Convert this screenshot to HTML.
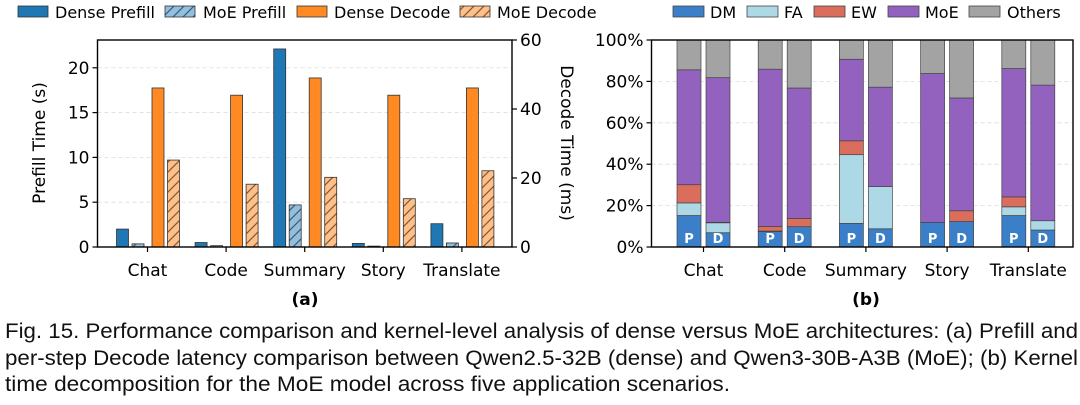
<!DOCTYPE html>
<html><head><meta charset="utf-8"><style>
html,body{margin:0;padding:0;background:#fff;}
svg{display:block;font-family:"DejaVu Sans","Liberation Sans",sans-serif;}
</style></head><body>
<svg id="fig" width="1080" height="405" viewBox="0 0 1080 405" xmlns="http://www.w3.org/2000/svg">
<defs>
<pattern id="hatchB" patternUnits="userSpaceOnUse" width="10" height="10">
<rect width="10" height="10" fill="#93bfdf"/><path d="M-2,12 L12,-2 M-2,2 L2,-2 M8,12 L12,8" stroke="#3d5a73" stroke-width="1.2"/></pattern>
<pattern id="hatchO" patternUnits="userSpaceOnUse" width="10" height="10">
<rect width="10" height="10" fill="#ffbf86"/><path d="M-2,12 L12,-2 M-2,2 L2,-2 M8,12 L12,8" stroke="#7a5a40" stroke-width="1.2"/></pattern>
</defs>
<g id="chartA"></g>
<g id="chartB"></g>
<g font-family="'Liberation Sans Narrow','Liberation Sans',sans-serif" font-size="21" fill="#111">
<text x="5" y="338" textLength="1073" lengthAdjust="spacingAndGlyphs">Fig. 15.  Performance comparison and kernel-level analysis of dense versus MoE architectures: (a) Prefill and</text>
<text x="5" y="365" textLength="1073" lengthAdjust="spacingAndGlyphs">per-step Decode latency comparison between Qwen2.5-32B (dense) and Qwen3-30B-A3B (MoE); (b) Kernel</text>
<text x="5" y="391" textLength="725" lengthAdjust="spacingAndGlyphs">time decomposition for the MoE model across five application scenarios.</text>
</g>
</svg>
<script>
const categories = ["Chat","Code","Summary","Story","Translate"];
const densePrefill = [2.0, 0.5, 22.1, 0.4, 2.6];
const moePrefill = [0.35, 0.15, 4.7, 0.1, 0.45];
const denseDecode = [46.1, 44.0, 49.0, 44.0, 46.1];
const moeDecode = [25.2, 18.2, 20.2, 14.0, 22.1];
const leftTicks = [0,5,10,15,20];
const rightTicks = [0,20,40,60];
const kernels = ["DM","FA","EW","MoE","Others"];
const prefillShare = [
 [15.2,6.1,8.8,55.5,14.4],
 [7.5,0.2,2.2,76.0,14.1],
 [11.4,33.2,6.7,39.4,9.3],
 [11.9,0,0,71.9,16.2],
 [15.2,4.2,4.8,62.0,13.8]];
const decodeShare = [
 [6.9,4.8,0.2,69.9,18.2],
 [9.8,0,4.0,63.0,23.2],
 [8.8,20.4,0,48.0,22.8],
 [12.3,0,5.2,54.5,28.0],
 [8.2,4.5,0,65.5,21.8]];
const pctTicks = [0,20,40,60,80,100];

const NS="http://www.w3.org/2000/svg";
function mk(parent,tag,attrs,txt){const e=document.createElementNS(NS,tag);for(const k in attrs)e.setAttribute(k,attrs[k]);if(txt!==undefined)e.textContent=txt;parent.appendChild(e);return e;}

// ---- Chart A
const A=document.getElementById('chartA');
const aL=97.5,aR=512,aT=40,aB=247;
const yL=v=>aB-(v/23.1)*(aB-aT);
const yR=v=>aB-(v/60)*(aB-aT);
const xCat=i=>147.5+i*78.6;
leftTicks.forEach(t=>{
 if(t>0){const g=mk(A,'line',{x1:aL,x2:aR,y1:yL(t),y2:yL(t),stroke:'#ddd','stroke-dasharray':'4,3','stroke-width':0.8});
 
 }
 mk(A,'line',{x1:aL-5,x2:aL,y1:yL(t),y2:yL(t),stroke:'#000','stroke-width':1.2});
 const l=mk(A,'text',{x:aL-8,y:yL(t)+6,'text-anchor':'end','font-size':17},String(t));
 
 
});
rightTicks.forEach(t=>{
 mk(A,'line',{x1:aR,x2:aR+5,y1:yR(t),y2:yR(t),stroke:'#000','stroke-width':1.2});
 const l=mk(A,'text',{x:aR+8,y:yR(t)+6,'font-size':17},String(t));
 
 
});
const series=[
 {d:densePrefill,off:-25,fill:'#1f77b4',sc:yL,name:'dense-prefill-bar'},
 {d:moePrefill,off:-9.5,fill:'url(#hatchB)',sc:yL,name:'moe-prefill-bar'},
 {d:denseDecode,off:10.5,fill:'#ff8a24',sc:yR,name:'dense-decode-bar'},
 {d:moeDecode,off:26,fill:'url(#hatchO)',sc:yR,name:'moe-decode-bar'}];
series.forEach(s=>{s.d.forEach((v,i)=>{
 const y=s.sc(v);
 const r=mk(A,'rect',{x:xCat(i)+s.off-6,y:y,width:12,height:aB-y,fill:s.fill,stroke:'#333','stroke-width':0.8});
 
 
});});
mk(A,'rect',{x:aL,y:aT,width:aR-aL,height:aB-aT,fill:'none',stroke:'#000','stroke-width':1.4});
categories.forEach((c,i)=>{
 mk(A,'line',{x1:xCat(i),x2:xCat(i),y1:aB,y2:aB+5,stroke:'#000','stroke-width':1.2});
 const l=mk(A,'text',{x:xCat(i),y:276,'text-anchor':'middle','font-size':17},c);
 
 
});
let t=mk(A,'text',{x:0,y:0,transform:'translate(45,143) rotate(-90)','text-anchor':'middle','font-size':17},'Prefill Time (s)');

t=mk(A,'text',{x:0,y:0,transform:'translate(561,143) rotate(90)','text-anchor':'middle','font-size':17},'Decode Time (ms)');

t=mk(A,'text',{x:305,y:305,'text-anchor':'middle','font-size':17,'font-weight':'bold'},'(a)');

const legA=[['Dense Prefill','#1f77b4',18,55],['MoE Prefill','url(#hatchB)',165,203],['Dense Decode','#ff8a24',297,334],['MoE Decode','url(#hatchO)',460,497]];
legA.forEach(e=>{
 const r=mk(A,'rect',{x:e[2],y:6,width:30,height:11,fill:e[1],stroke:'#333','stroke-width':0.8});
 
 const l=mk(A,'text',{x:e[3],y:18,'font-size':16},e[0]);
 
});

// ---- Chart B
const B=document.getElementById('chartB');
const bL=651.5,bR=1073,bT=40,bB=247;
const yP=v=>bB-(v/100)*(bB-bT);
const xB=i=>703.5+i*81.2;
const kColors=['#3b7fc8','#add8e6','#db6d5c','#9262be','#a3a3a3'];
pctTicks.forEach(p=>{
 if(p>0&&p<100){const g=mk(B,'line',{x1:bL,x2:bR,y1:yP(p),y2:yP(p),stroke:'#ddd','stroke-dasharray':'4,3','stroke-width':0.8});
 }
 mk(B,'line',{x1:bL-5,x2:bL,y1:yP(p),y2:yP(p),stroke:'#000','stroke-width':1.2});
 const l=mk(B,'text',{x:bL-8,y:yP(p)+6,'text-anchor':'end','font-size':17},p+'%');
 
});
function stack(arr,i,off,lab){
 let acc=0;
 arr[i].forEach((v,k)=>{
  const y0=yP(acc),y1=yP(acc+v);acc+=v;
  if(v<=0)return;
  const r=mk(B,'rect',{x:xB(i)+off-12,y:y1,width:24,height:y0-y1,fill:kColors[k],stroke:'#444','stroke-width':0.7});
  
  
 });
 const l=mk(B,'text',{x:xB(i)+off,y:bB-4,'text-anchor':'middle','font-size':13,'font-weight':'bold',fill:'#fff'},lab);
 
}
categories.forEach((c,i)=>{stack(prefillShare,i,-14.5,'P');stack(decodeShare,i,14.5,'D');});
mk(B,'rect',{x:bL,y:bT,width:bR-bL,height:bB-bT,fill:'none',stroke:'#000','stroke-width':1.4});
categories.forEach((c,i)=>{
 mk(B,'line',{x1:xB(i),x2:xB(i),y1:bB,y2:bB+5,stroke:'#000','stroke-width':1.2});
 const l=mk(B,'text',{x:xB(i),y:276,'text-anchor':'middle','font-size':17},c);
 
});
t=mk(B,'text',{x:866,y:305,'text-anchor':'middle','font-size':17,'font-weight':'bold'},'(b)');

const legX=[[673,710],[747,784],[814,851],[888,925],[969,1007]];
kernels.forEach((k,j)=>{
 const r=mk(B,'rect',{x:legX[j][0],y:6,width:31,height:11,fill:kColors[j],stroke:'#444','stroke-width':0.8});
 
 const l=mk(B,'text',{x:legX[j][1],y:18,'font-size':16},k);
 
});
</script>
</body></html>
